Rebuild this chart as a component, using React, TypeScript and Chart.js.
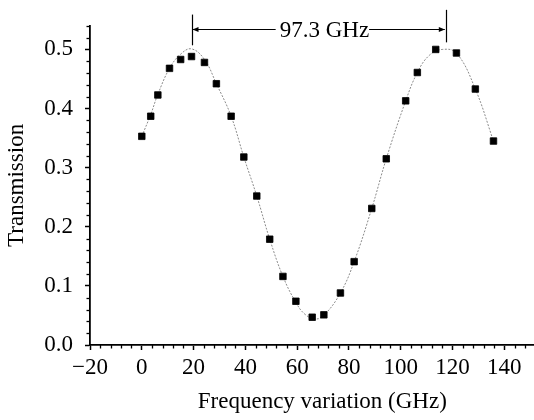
import React, { useEffect, useRef } from 'react';
import { Chart, registerables } from 'chart.js';

Chart.register(...registerables);

// Measured data points
const freqGHz = [0, 3.45, 6.2, 10.7, 15.0, 19.2, 24.2, 28.8, 34.5, 39.4, 44.4, 49.4, 54.5, 59.5, 65.8, 70.3, 76.7, 82.0, 88.8, 94.4, 101.9, 106.4, 113.5, 121.5, 128.8, 135.8];
const transmission = [0.353, 0.387, 0.423, 0.468, 0.483, 0.488, 0.478, 0.442, 0.387, 0.318, 0.252, 0.179, 0.116, 0.074, 0.047, 0.051, 0.088, 0.141, 0.231, 0.315, 0.413, 0.461, 0.5, 0.494, 0.433, 0.345];

// Fitted curve
const fitFreq = [0, 3.45, 6.2, 10.7, 15, 19.2, 24.2, 28.8, 34.5, 39.4, 44.4, 49.4, 54.5, 59.5, 63, 67, 70.3, 76.7, 82, 88.8, 94.4, 101.9, 106.4, 111, 116, 121.5, 128.8, 135.8];
const fitTransmission = [0.353, 0.39, 0.424, 0.468, 0.492, 0.501, 0.483, 0.442, 0.387, 0.318, 0.252, 0.179, 0.116, 0.072, 0.052, 0.044, 0.05, 0.088, 0.141, 0.231, 0.315, 0.413, 0.461, 0.49, 0.5, 0.494, 0.433, 0.345];

// Axis ticks
const xTickValues = [-20, 0, 20, 40, 60, 80, 100, 120, 140];
const yTickValues = [0, 0.1, 0.2, 0.3, 0.4, 0.5];

// Peak-spacing annotation
const peakFreqs = [19.2, 117.4];
const peakBarLow = [0.507, 0.512];
const peakBarHigh = [0.559, 0.567];
const arrowLevel = 0.535;
const spacingLabelFreq = 70.5;
const spacingLabel = '97.3 GHz';

const FONT = '"Liberation Serif", "Times New Roman", serif';
const FONT_SIZE = 23;

const overlayPlugin = {
  id: 'overlay',
  afterDraw(chart: any) {
    const ctx = chart.ctx;
    const xs = chart.scales.x;
    const ys = chart.scales.y;
    ctx.save();
    ctx.strokeStyle = '#000';
    ctx.fillStyle = '#000';
    ctx.lineWidth = 1.3;
    // minor ticks on x (every 4)
    for (let i = -5; i * 4 <= xs.max; i++) {
      const v = i * 4;
      if (v < xs.min || v % 20 === 0) continue;
      const px = Math.round(xs.getPixelForValue(v)) + 0.5;
      ctx.beginPath();
      ctx.moveTo(px, ys.bottom);
      ctx.lineTo(px, ys.bottom + 3.5);
      ctx.stroke();
    }
    // minor ticks on y (every 0.02)
    for (let i = 0; i * 0.02 <= ys.max + 1e-9; i++) {
      if (i % 5 === 0) continue;
      const py = Math.round(ys.getPixelForValue(i * 0.02)) + 0.5;
      ctx.beginPath();
      ctx.moveTo(xs.left, py);
      ctx.lineTo(xs.left - 3.5, py);
      ctx.stroke();
    }
    // peak bars
    ctx.lineWidth = 1.2;
    peakFreqs.forEach((f, i) => {
      const px = Math.round(xs.getPixelForValue(f)) + 0.5;
      ctx.beginPath();
      ctx.moveTo(px, ys.getPixelForValue(peakBarLow[i]));
      ctx.lineTo(px, ys.getPixelForValue(peakBarHigh[i]));
      ctx.stroke();
    });
    // label + arrows
    ctx.font = `${FONT_SIZE}px ${FONT}`;
    ctx.textAlign = 'center';
    ctx.textBaseline = 'middle';
    const tx = xs.getPixelForValue(spacingLabelFreq);
    const ty = Math.round(ys.getPixelForValue(arrowLevel)) + 0.5;
    ctx.fillText(spacingLabel, tx, ty + 1);
    const w = ctx.measureText(spacingLabel).width;
    const lx = xs.getPixelForValue(peakFreqs[0]);
    const rx = xs.getPixelForValue(peakFreqs[1]);
    ctx.lineWidth = 1;
    ctx.beginPath();
    ctx.moveTo(lx + 1, ty);
    ctx.lineTo(tx - w / 2 - 4, ty);
    ctx.moveTo(tx + w / 2, ty);
    ctx.lineTo(rx - 1, ty);
    ctx.stroke();
    // arrowheads
    ctx.beginPath();
    ctx.moveTo(lx + 1, ty);
    ctx.lineTo(lx + 7, ty - 2.5);
    ctx.lineTo(lx + 7, ty + 2.5);
    ctx.closePath();
    ctx.fill();
    ctx.beginPath();
    ctx.moveTo(rx - 1, ty);
    ctx.lineTo(rx - 7, ty - 2.5);
    ctx.lineTo(rx - 7, ty + 2.5);
    ctx.closePath();
    ctx.fill();
    ctx.restore();
  },
};

export default function App() {
  const canvasRef = useRef<HTMLCanvasElement | null>(null);

  useEffect(() => {
    document.body.style.margin = '0';
    document.body.style.overflow = 'hidden';
    const canvas = canvasRef.current;
    if (!canvas) return;
    const chart = new Chart(canvas, {
      type: 'scatter',
      data: {
        datasets: [
          {
            label: 'Measured',
            order: 0,
            data: freqGHz.map((x, i) => ({ x, y: transmission[i] })),
            showLine: false,
            pointStyle: 'rect',
            pointRadius: 4.6,
            pointBackgroundColor: '#000',
            pointBorderColor: '#000',
            pointBorderWidth: 0.8,
          },
          {
            label: 'Fit',
            order: 1,
            data: fitFreq.map((x, i) => ({ x, y: fitTransmission[i] })),
            showLine: true,
            borderColor: '#8a8a8a',
            borderWidth: 1,
            borderDash: [2, 1.5],
            tension: 0.4,
            pointRadius: 0,
            fill: false,
          },
        ],
      },
      options: {
        responsive: true,
        maintainAspectRatio: false,
        animation: false,
        layout: { padding: { top: 23, right: 2, bottom: 0, left: 0 } },
        plugins: {
          legend: { display: false },
          tooltip: { enabled: false },
        },
        scales: {
          x: {
            type: 'linear',
            min: -20,
            max: 159.4,
            afterBuildTicks: (s: any) => {
              s.ticks = xTickValues.map((v) => ({ value: v }));
            },
            afterFit: (s: any) => {
              s.height = 75;
            },
            ticks: {
              autoSkip: false,
              maxRotation: 0,
              padding: 4,
              color: '#000',
              font: { family: FONT, size: FONT_SIZE },
              callback: (v: any) => (v < 0 ? '\u2212' + Math.abs(v) : String(v)),
            },
            grid: {
              display: true,
              drawOnChartArea: false,
              drawTicks: true,
              tickLength: 5,
              tickColor: '#000',
              tickWidth: 1.5,
            },
            border: { display: true, color: '#000', width: 1.8 },
            title: {
              display: true,
              text: 'Frequency variation (GHz)',
              color: '#000',
              font: { family: FONT, size: FONT_SIZE },
              padding: { top: 0, bottom: 4 },
            },
          },
          y: {
            type: 'linear',
            min: 0,
            max: 0.54,
            afterBuildTicks: (s: any) => {
              s.ticks = yTickValues.map((v) => ({ value: v }));
            },
            afterFit: (s: any) => {
              s.width = 90;
            },
            ticks: {
              padding: 12,
              color: '#000',
              font: { family: FONT, size: FONT_SIZE },
              callback: (v: any) => Number(v).toFixed(1),
            },
            grid: {
              display: true,
              drawOnChartArea: false,
              drawTicks: true,
              tickLength: 5,
              tickColor: '#000',
              tickWidth: 1.5,
            },
            border: { display: true, color: '#000', width: 1.8 },
            title: {
              display: true,
              text: 'Transmission',
              color: '#000',
              font: { family: FONT, size: FONT_SIZE },
              padding: { top: 3, bottom: 0 },
            },
          },
        },
      },
      plugins: [overlayPlugin],
    });
    return () => chart.destroy();
  }, []);

  return (
    <div style={{ position: 'fixed', left: 0, top: 0, width: 560, height: 420 }}>
      <canvas ref={canvasRef} />
    </div>
  );
}
